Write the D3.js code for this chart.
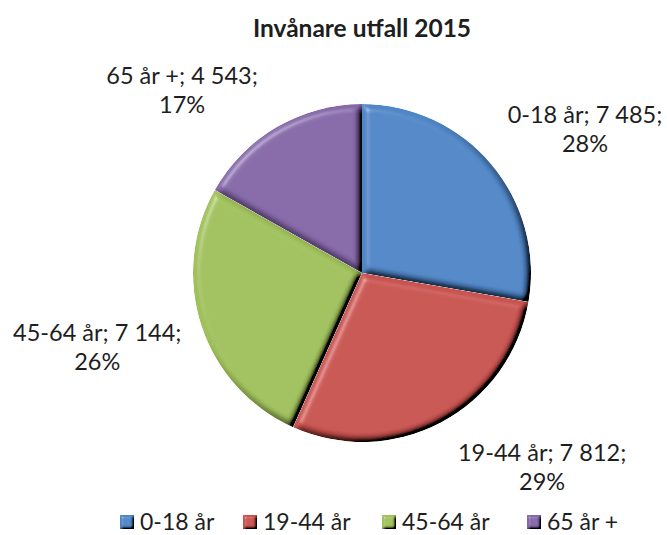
<!DOCTYPE html>
<html>
<head>
<meta charset="utf-8">
<script src="https://cdn.jsdelivr.net/npm/d3@7"></script>
<style>
  html, body { margin: 0; padding: 0; background: #fff; }
  svg { display: block; }
  text { font-family: Lato, "Open Sans", sans-serif; fill: #1e1e1e; }
</style>
</head>
<body>
<svg id="chart" width="667" height="535"></svg>
<script>
const title = "Invånare utfall 2015";
const categories = ["0-18 år", "19-44 år", "45-64 år", "65 år +"];
const values = [7485, 7812, 7144, 4543];
const valueLabels = ["7 485", "7 812", "7 144", "4 543"];
const percentLabels = ["28%", "29%", "26%", "17%"];
const colors = ["#5086C6", "#C8524F", "#A0C05C", "#8567A8"];

const svg = d3.select("#chart");
const cx = 362, cy = 273, R = 169;

const defs = svg.append("defs");
function bevel(id, blur, scale, elev) {
  const f = defs.append("filter").attr("id", id)
    .attr("x", "-10%").attr("y", "-10%").attr("width", "120%").attr("height", "120%");
  f.append("feGaussianBlur").attr("in", "SourceAlpha").attr("stdDeviation", blur).attr("result", "blur");
  const d = f.append("feDiffuseLighting").attr("in", "blur").attr("surfaceScale", scale)
    .attr("diffuseConstant", 1 / Math.sin(elev * Math.PI / 180)).attr("lighting-color", "#ffffff").attr("result", "diff");
  d.append("feDistantLight").attr("azimuth", 225).attr("elevation", elev);
  const s = f.append("feSpecularLighting").attr("in", "blur").attr("surfaceScale", scale)
    .attr("specularConstant", 0.6).attr("specularExponent", 22).attr("lighting-color", "#ffffff").attr("result", "spec");
  s.append("feDistantLight").attr("azimuth", 225).attr("elevation", 35);
  f.append("feComposite").attr("in", "SourceGraphic").attr("in2", "diff")
    .attr("operator", "arithmetic").attr("k1", 1).attr("k2", 0).attr("k3", 0).attr("k4", 0).attr("result", "lit");
  f.append("feComposite").attr("in", "spec").attr("in2", "SourceAlpha").attr("operator", "in").attr("result", "specIn");
  f.append("feComposite").attr("in", "lit").attr("in2", "specIn")
    .attr("operator", "arithmetic").attr("k1", 0).attr("k2", 1).attr("k3", 0.4).attr("k4", 0).attr("result", "sum");
  f.append("feComposite").attr("in", "sum").attr("in2", "SourceAlpha").attr("operator", "in");
}
bevel("bevel", 3.5, 6, 42);
bevel("bevelSmall", 1.5, 3, 45);

const color = d3.scaleOrdinal().domain(categories).range(colors);

svg.append("text")
  .attr("x", cx).attr("y", 37)
  .attr("text-anchor", "middle")
  .style("font-weight", "bold")
  .style("font-size", "24.5px")
  .text(title);

const data = categories.map((c, i) => ({ cat: c, value: values[i], vl: valueLabels[i], pl: percentLabels[i] }));
const pie = d3.pie().value(d => d.value).sort(null);
const arc = d3.arc().innerRadius(0).outerRadius(R);
const arcs = pie(data);

const g = svg.append("g").attr("transform", `translate(${cx},${cy})`);
g.selectAll("path.slice")
  .data(arcs)
  .join("path")
  .attr("class", "slice")
  .attr("d", arc)
  .attr("fill", d => color(d.data.cat))
  .attr("filter", "url(#bevel)");

// Data labels: anchored on the slice mid-angle at a fixed radius, then nudged
// the way Excel's best-fit placement puts them
const labelArc = d3.arc().innerRadius(R * 1.5).outerRadius(R * 1.5);
const labelNudge = [[29, 13], [61, -36], [-24, -11], [-52, 30]];
const labels = g.selectAll("g.lbl")
  .data(arcs)
  .join("g")
  .attr("class", "lbl")
  .attr("transform", (d, i) => {
    const [x, y] = labelArc.centroid(d);
    return `translate(${x + labelNudge[i][0]},${y + labelNudge[i][1]})`;
  });
labels.append("text")
  .attr("text-anchor", "middle")
  .style("font-size", "23.5px")
  .attr("y", 0)
  .text(d => `${d.data.cat}; ${d.data.vl};`);
labels.append("text")
  .attr("text-anchor", "middle")
  .style("font-size", "23.5px")
  .attr("y", 29)
  .text(d => d.data.pl);

// Legend
const legendX = [120, 243, 382, 527];
const legend = svg.append("g").selectAll("g")
  .data(categories)
  .join("g")
  .attr("transform", (d, i) => `translate(${legendX[i]},515)`);
legend.append("rect")
  .attr("width", 14).attr("height", 14)
  .attr("fill", d => color(d))
  .attr("filter", "url(#bevelSmall)");
legend.append("text")
  .attr("x", 20).attr("y", 14.5)
  .style("font-size", "23px")
  .text(d => d);
</script>
</body>
</html>
